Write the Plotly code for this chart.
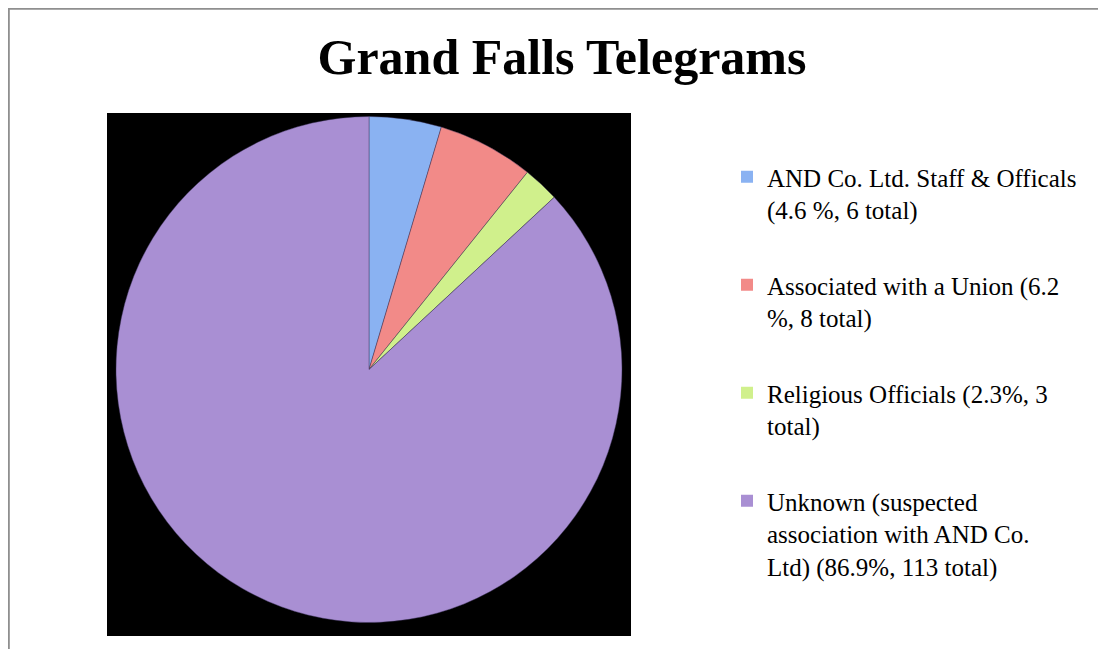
import plotly.graph_objects as go

labels = [
    "AND Co. Ltd. Staff & Officals<br>(4.6 %, 6 total)",
    "Associated with a Union (6.2<br>%, 8 total)",
    "Religious Officials (2.3%, 3<br>total)",
    "Unknown (suspected<br>association with AND Co.<br>Ltd) (86.9%, 113 total)",
]
counts = [6, 8, 3, 113]
colors = ["#8AB2F2", "#F28A88", "#D0F08C", "#A98FD3"]

# the page body adds an 8px margin, so the figure is 8px smaller than the window
W, H = 1098, 641


def px(x):
    return x / W


def py(y):
    return 1 - y / H


fig = go.Figure()
fig.add_trace(
    go.Pie(
        labels=labels,
        values=counts,
        sort=False,
        direction="clockwise",
        rotation=0,
        textinfo="none",
        hoverinfo="label+value",
        showlegend=False,
        marker=dict(colors=colors, line=dict(color="rgba(60,50,90,0.55)", width=0.8)),
        domain=dict(x=[px(108), px(614)], y=[py(615), py(108)]),
    )
)

# legend entries, one group each so the gap between them can be set
for lab, col in zip(labels, colors):
    fig.add_trace(
        go.Scatter(
            x=[None],
            y=[None],
            mode="markers",
            name=lab,
            legendgroup=lab,
            marker=dict(symbol="square", size=12, color=col, line=dict(width=0)),
            hoverinfo="skip",
        )
    )

font = "Liberation Serif, Times New Roman, serif"
fig.update_layout(
    width=W,
    height=H,
    margin=dict(l=0, r=0, t=0, b=0),
    paper_bgcolor="white",
    plot_bgcolor="rgba(0,0,0,0)",
    xaxis=dict(visible=False),
    yaxis=dict(visible=False),
    title=dict(
        text="<b>Grand Falls Telegrams</b>",
        font=dict(family=font, size=50, color="black"),
        x=px(554),
        xanchor="center",
        y=py(48),
        yanchor="middle",
    ),
    legend=dict(
        x=px(719),
        y=py(146),
        xanchor="left",
        yanchor="top",
        font=dict(family=font, size=25, color="black"),
        traceorder="grouped",
        tracegroupgap=40,
        valign="top",
        bgcolor="rgba(0,0,0,0)",
    ),
    shapes=[
        # black panel behind the pie
        dict(type="rect", xref="paper", yref="paper", layer="below",
             x0=px(99), x1=px(623), y0=py(628), y1=py(105),
             fillcolor="black", line=dict(width=0)),
        # gray frame on the left and top
        dict(type="path", xref="paper", yref="paper", layer="above",
             path=f"M {px(0.8)},0 L {px(0.8)},{py(0.8)} L 1,{py(0.8)}",
             line=dict(color="#8f8f8f", width=2)),
    ],
)

fig.write_html("out.html")
